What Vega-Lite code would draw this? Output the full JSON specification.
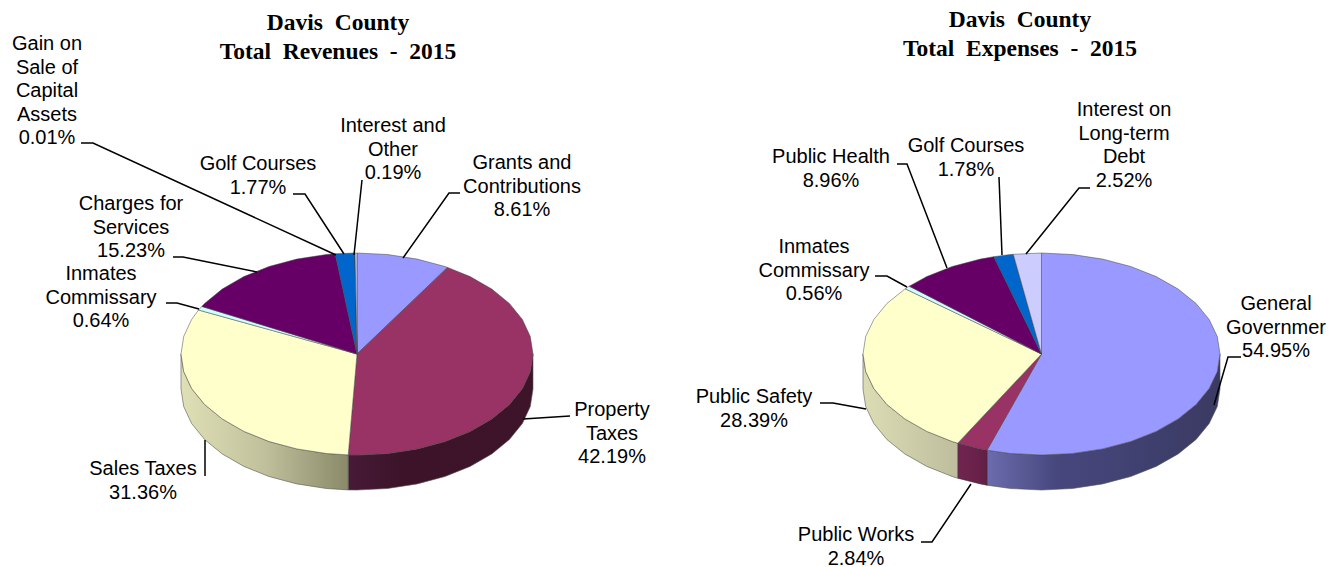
{"$schema":"https://vega.github.io/schema/vega-lite/v6.json","width":1340,"height":567,"padding":0,"autosize":"none","background":"white","config":{"view":{"stroke":null}},
"datasets":{"walls":[
{"pie":"Revenues","slice":"Property Taxes","i":1,"x":533,"y":354},{"pie":"Revenues","slice":"Property Taxes","i":2,"x":530.3,"y":371.5},{"pie":"Revenues","slice":"Property Taxes","i":3,"x":522.4,"y":388.5},{"pie":"Revenues","slice":"Property Taxes","i":4,"x":509.4,"y":404.5},{"pie":"Revenues","slice":"Property Taxes","i":5,"x":491.8,"y":418.9},{"pie":"Revenues","slice":"Property Taxes","i":6,"x":470.1,"y":431.4},{"pie":"Revenues","slice":"Property Taxes","i":7,"x":445,"y":441.5},{"pie":"Revenues","slice":"Property Taxes","i":8,"x":417.2,"y":448.9},{"pie":"Revenues","slice":"Property Taxes","i":9,"x":387.6,"y":453.5},{"pie":"Revenues","slice":"Property Taxes","i":10,"x":357,"y":455},{"pie":"Revenues","slice":"Property Taxes","i":11,"x":348.2,"y":454.9},{"pie":"Revenues","slice":"Property Taxes","i":12,"x":348.2,"y":489.9},{"pie":"Revenues","slice":"Property Taxes","i":13,"x":357,"y":490},{"pie":"Revenues","slice":"Property Taxes","i":14,"x":387.6,"y":488.5},{"pie":"Revenues","slice":"Property Taxes","i":15,"x":417.2,"y":483.9},{"pie":"Revenues","slice":"Property Taxes","i":16,"x":445,"y":476.5},{"pie":"Revenues","slice":"Property Taxes","i":17,"x":470.1,"y":466.4},{"pie":"Revenues","slice":"Property Taxes","i":18,"x":491.8,"y":453.9},{"pie":"Revenues","slice":"Property Taxes","i":19,"x":509.4,"y":439.5},{"pie":"Revenues","slice":"Property Taxes","i":20,"x":522.4,"y":423.5},{"pie":"Revenues","slice":"Property Taxes","i":21,"x":530.3,"y":406.5},{"pie":"Revenues","slice":"Property Taxes","i":22,"x":533,"y":389},
{"pie":"Revenues","slice":"Sales Taxes","i":1,"x":348.2,"y":454.9},{"pie":"Revenues","slice":"Sales Taxes","i":2,"x":326.4,"y":453.5},{"pie":"Revenues","slice":"Sales Taxes","i":3,"x":296.8,"y":448.9},{"pie":"Revenues","slice":"Sales Taxes","i":4,"x":269,"y":441.5},{"pie":"Revenues","slice":"Sales Taxes","i":5,"x":243.9,"y":431.4},{"pie":"Revenues","slice":"Sales Taxes","i":6,"x":222.2,"y":418.9},{"pie":"Revenues","slice":"Sales Taxes","i":7,"x":204.6,"y":404.5},{"pie":"Revenues","slice":"Sales Taxes","i":8,"x":191.6,"y":388.5},{"pie":"Revenues","slice":"Sales Taxes","i":9,"x":183.7,"y":371.5},{"pie":"Revenues","slice":"Sales Taxes","i":10,"x":181,"y":354},{"pie":"Revenues","slice":"Sales Taxes","i":11,"x":181,"y":389},{"pie":"Revenues","slice":"Sales Taxes","i":12,"x":183.7,"y":406.5},{"pie":"Revenues","slice":"Sales Taxes","i":13,"x":191.6,"y":423.5},{"pie":"Revenues","slice":"Sales Taxes","i":14,"x":204.6,"y":439.5},{"pie":"Revenues","slice":"Sales Taxes","i":15,"x":222.2,"y":453.9},{"pie":"Revenues","slice":"Sales Taxes","i":16,"x":243.9,"y":466.4},{"pie":"Revenues","slice":"Sales Taxes","i":17,"x":269,"y":476.5},{"pie":"Revenues","slice":"Sales Taxes","i":18,"x":296.8,"y":483.9},{"pie":"Revenues","slice":"Sales Taxes","i":19,"x":326.4,"y":488.5},{"pie":"Revenues","slice":"Sales Taxes","i":20,"x":348.2,"y":489.9},
{"pie":"Expenses","slice":"General Government","i":1,"x":1220,"y":354},{"pie":"Expenses","slice":"General Government","i":2,"x":1217.3,"y":371.5},{"pie":"Expenses","slice":"General Government","i":3,"x":1209.2,"y":388.5},{"pie":"Expenses","slice":"General Government","i":4,"x":1196.1,"y":404.5},{"pie":"Expenses","slice":"General Government","i":5,"x":1178.2,"y":418.9},{"pie":"Expenses","slice":"General Government","i":6,"x":1156.2,"y":431.4},{"pie":"Expenses","slice":"General Government","i":7,"x":1130.8,"y":441.5},{"pie":"Expenses","slice":"General Government","i":8,"x":1102.6,"y":448.9},{"pie":"Expenses","slice":"General Government","i":9,"x":1072.5,"y":453.5},{"pie":"Expenses","slice":"General Government","i":10,"x":1041.5,"y":455},{"pie":"Expenses","slice":"General Government","i":11,"x":1010.5,"y":453.5},{"pie":"Expenses","slice":"General Government","i":12,"x":987,"y":450.2},{"pie":"Expenses","slice":"General Government","i":13,"x":987,"y":485.2},{"pie":"Expenses","slice":"General Government","i":14,"x":1010.5,"y":488.5},{"pie":"Expenses","slice":"General Government","i":15,"x":1041.5,"y":490},{"pie":"Expenses","slice":"General Government","i":16,"x":1072.5,"y":488.5},{"pie":"Expenses","slice":"General Government","i":17,"x":1102.6,"y":483.9},{"pie":"Expenses","slice":"General Government","i":18,"x":1130.8,"y":476.5},{"pie":"Expenses","slice":"General Government","i":19,"x":1156.2,"y":466.4},{"pie":"Expenses","slice":"General Government","i":20,"x":1178.2,"y":453.9},{"pie":"Expenses","slice":"General Government","i":21,"x":1196.1,"y":439.5},{"pie":"Expenses","slice":"General Government","i":22,"x":1209.2,"y":423.5},{"pie":"Expenses","slice":"General Government","i":23,"x":1217.3,"y":406.5},{"pie":"Expenses","slice":"General Government","i":24,"x":1220,"y":389},
{"pie":"Expenses","slice":"Public Works","i":1,"x":987,"y":450.2},{"pie":"Expenses","slice":"Public Works","i":2,"x":980.4,"y":448.9},{"pie":"Expenses","slice":"Public Works","i":3,"x":957.7,"y":443.2},{"pie":"Expenses","slice":"Public Works","i":4,"x":957.7,"y":478.2},{"pie":"Expenses","slice":"Public Works","i":5,"x":980.4,"y":483.9},{"pie":"Expenses","slice":"Public Works","i":6,"x":987,"y":485.2},
{"pie":"Expenses","slice":"Public Safety","i":1,"x":957.7,"y":443.2},{"pie":"Expenses","slice":"Public Safety","i":2,"x":952.2,"y":441.5},{"pie":"Expenses","slice":"Public Safety","i":3,"x":926.8,"y":431.4},{"pie":"Expenses","slice":"Public Safety","i":4,"x":904.8,"y":418.9},{"pie":"Expenses","slice":"Public Safety","i":5,"x":886.9,"y":404.5},{"pie":"Expenses","slice":"Public Safety","i":6,"x":873.8,"y":388.5},{"pie":"Expenses","slice":"Public Safety","i":7,"x":865.7,"y":371.5},{"pie":"Expenses","slice":"Public Safety","i":8,"x":863,"y":354},{"pie":"Expenses","slice":"Public Safety","i":9,"x":863,"y":389},{"pie":"Expenses","slice":"Public Safety","i":10,"x":865.7,"y":406.5},{"pie":"Expenses","slice":"Public Safety","i":11,"x":873.8,"y":423.5},{"pie":"Expenses","slice":"Public Safety","i":12,"x":886.9,"y":439.5},{"pie":"Expenses","slice":"Public Safety","i":13,"x":904.8,"y":453.9},{"pie":"Expenses","slice":"Public Safety","i":14,"x":926.8,"y":466.4},{"pie":"Expenses","slice":"Public Safety","i":15,"x":952.2,"y":476.5},{"pie":"Expenses","slice":"Public Safety","i":16,"x":957.7,"y":478.2}
],
"tops":[
{"pie":"Revenues","slice":"Grants and Contributions","i":0,"x":357,"y":354},{"pie":"Revenues","slice":"Grants and Contributions","i":1,"x":357,"y":253},{"pie":"Revenues","slice":"Grants and Contributions","i":2,"x":387.6,"y":254.5},{"pie":"Revenues","slice":"Grants and Contributions","i":3,"x":417.2,"y":259.1},{"pie":"Revenues","slice":"Grants and Contributions","i":4,"x":445,"y":266.5},{"pie":"Revenues","slice":"Grants and Contributions","i":5,"x":447.6,"y":267.4},
{"pie":"Revenues","slice":"Property Taxes","i":0,"x":357,"y":354},{"pie":"Revenues","slice":"Property Taxes","i":1,"x":447.6,"y":267.4},{"pie":"Revenues","slice":"Property Taxes","i":2,"x":470.1,"y":276.6},{"pie":"Revenues","slice":"Property Taxes","i":3,"x":491.8,"y":289.1},{"pie":"Revenues","slice":"Property Taxes","i":4,"x":509.4,"y":303.5},{"pie":"Revenues","slice":"Property Taxes","i":5,"x":522.4,"y":319.5},{"pie":"Revenues","slice":"Property Taxes","i":6,"x":530.3,"y":336.5},{"pie":"Revenues","slice":"Property Taxes","i":7,"x":533,"y":354},{"pie":"Revenues","slice":"Property Taxes","i":8,"x":530.3,"y":371.5},{"pie":"Revenues","slice":"Property Taxes","i":9,"x":522.4,"y":388.5},{"pie":"Revenues","slice":"Property Taxes","i":10,"x":509.4,"y":404.5},{"pie":"Revenues","slice":"Property Taxes","i":11,"x":491.8,"y":418.9},{"pie":"Revenues","slice":"Property Taxes","i":12,"x":470.1,"y":431.4},{"pie":"Revenues","slice":"Property Taxes","i":13,"x":445,"y":441.5},{"pie":"Revenues","slice":"Property Taxes","i":14,"x":417.2,"y":448.9},{"pie":"Revenues","slice":"Property Taxes","i":15,"x":387.6,"y":453.5},{"pie":"Revenues","slice":"Property Taxes","i":16,"x":357,"y":455},{"pie":"Revenues","slice":"Property Taxes","i":17,"x":348.2,"y":454.9},
{"pie":"Revenues","slice":"Sales Taxes","i":0,"x":357,"y":354},{"pie":"Revenues","slice":"Sales Taxes","i":1,"x":348.2,"y":454.9},{"pie":"Revenues","slice":"Sales Taxes","i":2,"x":326.4,"y":453.5},{"pie":"Revenues","slice":"Sales Taxes","i":3,"x":296.8,"y":448.9},{"pie":"Revenues","slice":"Sales Taxes","i":4,"x":269,"y":441.5},{"pie":"Revenues","slice":"Sales Taxes","i":5,"x":243.9,"y":431.4},{"pie":"Revenues","slice":"Sales Taxes","i":6,"x":222.2,"y":418.9},{"pie":"Revenues","slice":"Sales Taxes","i":7,"x":204.6,"y":404.5},{"pie":"Revenues","slice":"Sales Taxes","i":8,"x":191.6,"y":388.5},{"pie":"Revenues","slice":"Sales Taxes","i":9,"x":183.7,"y":371.5},{"pie":"Revenues","slice":"Sales Taxes","i":10,"x":181,"y":354},{"pie":"Revenues","slice":"Sales Taxes","i":11,"x":183.7,"y":336.5},{"pie":"Revenues","slice":"Sales Taxes","i":12,"x":191.6,"y":319.5},{"pie":"Revenues","slice":"Sales Taxes","i":13,"x":198.5,"y":310},
{"pie":"Revenues","slice":"Inmates Commissary","i":0,"x":357,"y":354},{"pie":"Revenues","slice":"Inmates Commissary","i":1,"x":198.5,"y":310},{"pie":"Revenues","slice":"Inmates Commissary","i":2,"x":201.8,"y":306.4},
{"pie":"Revenues","slice":"Charges for Services","i":0,"x":357,"y":354},{"pie":"Revenues","slice":"Charges for Services","i":1,"x":201.8,"y":306.4},{"pie":"Revenues","slice":"Charges for Services","i":2,"x":204.6,"y":303.5},{"pie":"Revenues","slice":"Charges for Services","i":3,"x":222.2,"y":289.1},{"pie":"Revenues","slice":"Charges for Services","i":4,"x":243.9,"y":276.6},{"pie":"Revenues","slice":"Charges for Services","i":5,"x":269,"y":266.5},{"pie":"Revenues","slice":"Charges for Services","i":6,"x":296.8,"y":259.1},{"pie":"Revenues","slice":"Charges for Services","i":7,"x":326.4,"y":254.5},{"pie":"Revenues","slice":"Charges for Services","i":8,"x":335.2,"y":253.8},
{"pie":"Revenues","slice":"Golf Courses","i":0,"x":357,"y":354},{"pie":"Revenues","slice":"Golf Courses","i":1,"x":335.2,"y":253.8},{"pie":"Revenues","slice":"Golf Courses","i":2,"x":354.9,"y":253},
{"pie":"Revenues","slice":"Gain on Sale of Capital Assets","i":0,"x":357,"y":354},{"pie":"Revenues","slice":"Gain on Sale of Capital Assets","i":1,"x":354.9,"y":253},{"pie":"Revenues","slice":"Gain on Sale of Capital Assets","i":2,"x":355,"y":253},
{"pie":"Revenues","slice":"Interest and Other","i":0,"x":357,"y":354},{"pie":"Revenues","slice":"Interest and Other","i":1,"x":355,"y":253},{"pie":"Revenues","slice":"Interest and Other","i":2,"x":357,"y":253},
{"pie":"Expenses","slice":"General Government","i":0,"x":1041.5,"y":354},{"pie":"Expenses","slice":"General Government","i":1,"x":1041.5,"y":253},{"pie":"Expenses","slice":"General Government","i":2,"x":1072.5,"y":254.5},{"pie":"Expenses","slice":"General Government","i":3,"x":1102.6,"y":259.1},{"pie":"Expenses","slice":"General Government","i":4,"x":1130.8,"y":266.5},{"pie":"Expenses","slice":"General Government","i":5,"x":1156.2,"y":276.6},{"pie":"Expenses","slice":"General Government","i":6,"x":1178.2,"y":289.1},{"pie":"Expenses","slice":"General Government","i":7,"x":1196.1,"y":303.5},{"pie":"Expenses","slice":"General Government","i":8,"x":1209.2,"y":319.5},{"pie":"Expenses","slice":"General Government","i":9,"x":1217.3,"y":336.5},{"pie":"Expenses","slice":"General Government","i":10,"x":1220,"y":354},{"pie":"Expenses","slice":"General Government","i":11,"x":1217.3,"y":371.5},{"pie":"Expenses","slice":"General Government","i":12,"x":1209.2,"y":388.5},{"pie":"Expenses","slice":"General Government","i":13,"x":1196.1,"y":404.5},{"pie":"Expenses","slice":"General Government","i":14,"x":1178.2,"y":418.9},{"pie":"Expenses","slice":"General Government","i":15,"x":1156.2,"y":431.4},{"pie":"Expenses","slice":"General Government","i":16,"x":1130.8,"y":441.5},{"pie":"Expenses","slice":"General Government","i":17,"x":1102.6,"y":448.9},{"pie":"Expenses","slice":"General Government","i":18,"x":1072.5,"y":453.5},{"pie":"Expenses","slice":"General Government","i":19,"x":1041.5,"y":455},{"pie":"Expenses","slice":"General Government","i":20,"x":1010.5,"y":453.5},{"pie":"Expenses","slice":"General Government","i":21,"x":987,"y":450.2},
{"pie":"Expenses","slice":"Public Works","i":0,"x":1041.5,"y":354},{"pie":"Expenses","slice":"Public Works","i":1,"x":987,"y":450.2},{"pie":"Expenses","slice":"Public Works","i":2,"x":980.4,"y":448.9},{"pie":"Expenses","slice":"Public Works","i":3,"x":957.7,"y":443.2},
{"pie":"Expenses","slice":"Public Safety","i":0,"x":1041.5,"y":354},{"pie":"Expenses","slice":"Public Safety","i":1,"x":957.7,"y":443.2},{"pie":"Expenses","slice":"Public Safety","i":2,"x":952.2,"y":441.5},{"pie":"Expenses","slice":"Public Safety","i":3,"x":926.8,"y":431.4},{"pie":"Expenses","slice":"Public Safety","i":4,"x":904.8,"y":418.9},{"pie":"Expenses","slice":"Public Safety","i":5,"x":886.9,"y":404.5},{"pie":"Expenses","slice":"Public Safety","i":6,"x":873.8,"y":388.5},{"pie":"Expenses","slice":"Public Safety","i":7,"x":865.7,"y":371.5},{"pie":"Expenses","slice":"Public Safety","i":8,"x":863,"y":354},{"pie":"Expenses","slice":"Public Safety","i":9,"x":865.7,"y":336.5},{"pie":"Expenses","slice":"Public Safety","i":10,"x":873.8,"y":319.5},{"pie":"Expenses","slice":"Public Safety","i":11,"x":886.9,"y":303.5},{"pie":"Expenses","slice":"Public Safety","i":12,"x":904.8,"y":289.1},{"pie":"Expenses","slice":"Public Safety","i":13,"x":905.2,"y":288.8},
{"pie":"Expenses","slice":"Inmates Commissary","i":0,"x":1041.5,"y":354},{"pie":"Expenses","slice":"Inmates Commissary","i":1,"x":905.2,"y":288.8},{"pie":"Expenses","slice":"Inmates Commissary","i":2,"x":909.3,"y":286.2},
{"pie":"Expenses","slice":"Public Health","i":0,"x":1041.5,"y":354},{"pie":"Expenses","slice":"Public Health","i":1,"x":909.3,"y":286.2},{"pie":"Expenses","slice":"Public Health","i":2,"x":926.8,"y":276.6},{"pie":"Expenses","slice":"Public Health","i":3,"x":952.2,"y":266.5},{"pie":"Expenses","slice":"Public Health","i":4,"x":980.4,"y":259.1},{"pie":"Expenses","slice":"Public Health","i":5,"x":993.8,"y":256.7},
{"pie":"Expenses","slice":"Golf Courses","i":0,"x":1041.5,"y":354},{"pie":"Expenses","slice":"Golf Courses","i":1,"x":993.8,"y":256.7},{"pie":"Expenses","slice":"Golf Courses","i":2,"x":1010.5,"y":254.5},{"pie":"Expenses","slice":"Golf Courses","i":3,"x":1013.3,"y":254.3},
{"pie":"Expenses","slice":"Interest on Long-term Debt","i":0,"x":1041.5,"y":354},{"pie":"Expenses","slice":"Interest on Long-term Debt","i":1,"x":1013.3,"y":254.3},{"pie":"Expenses","slice":"Interest on Long-term Debt","i":2,"x":1041.5,"y":253}
],
"leaders":[
{"id":"r1","i":0,"x":81,"y":143},{"id":"r1","i":1,"x":93,"y":143},{"id":"r1","i":2,"x":336,"y":255},
{"id":"r2","i":0,"x":293,"y":194},{"id":"r2","i":1,"x":305,"y":194},{"id":"r2","i":2,"x":344,"y":254},
{"id":"r3","i":0,"x":362,"y":180},{"id":"r3","i":1,"x":354,"y":255},
{"id":"r4","i":0,"x":460,"y":193},{"id":"r4","i":1,"x":449,"y":193},{"id":"r4","i":2,"x":403,"y":258},
{"id":"r5","i":0,"x":173,"y":257},{"id":"r5","i":1,"x":183,"y":257},{"id":"r5","i":2,"x":257,"y":272},
{"id":"r6","i":0,"x":166,"y":303},{"id":"r6","i":1,"x":177,"y":303},{"id":"r6","i":2,"x":199,"y":309},
{"id":"r7","i":0,"x":570,"y":416},{"id":"r7","i":1,"x":523,"y":419},
{"id":"r8","i":0,"x":205,"y":440},{"id":"r8","i":1,"x":205,"y":476},
{"id":"e1","i":0,"x":1090,"y":188},{"id":"e1","i":1,"x":1079,"y":188},{"id":"e1","i":2,"x":1026,"y":254},
{"id":"e2","i":0,"x":999,"y":177},{"id":"e2","i":1,"x":1002,"y":255},
{"id":"e3","i":0,"x":897,"y":164},{"id":"e3","i":1,"x":907,"y":164},{"id":"e3","i":2,"x":947,"y":268},
{"id":"e4","i":0,"x":875,"y":276},{"id":"e4","i":1,"x":887,"y":276},{"id":"e4","i":2,"x":907,"y":287},
{"id":"e5","i":0,"x":1241,"y":357},{"id":"e5","i":1,"x":1228,"y":357},{"id":"e5","i":2,"x":1214,"y":405},
{"id":"e6","i":0,"x":820,"y":403},{"id":"e6","i":1,"x":833,"y":403},{"id":"e6","i":2,"x":866,"y":409},
{"id":"e7","i":0,"x":921,"y":542},{"id":"e7","i":1,"x":932,"y":542},{"id":"e7","i":2,"x":971,"y":484}
],
"labels":[
{"pie":"Revenues","share":0.01,"text":"Gain on\nSale of\nCapital\nAssets\n0.01%","x":47,"y":50},
{"pie":"Revenues","share":1.77,"text":"Golf Courses\n1.77%","x":258,"y":170},
{"pie":"Revenues","share":0.19,"text":"Interest and\nOther\n0.19%","x":393,"y":132},
{"pie":"Revenues","share":8.61,"text":"Grants and\nContributions\n8.61%","x":522,"y":169},
{"pie":"Revenues","share":15.23,"text":"Charges for\nServices\n15.23%","x":131,"y":210},
{"pie":"Revenues","share":0.64,"text":"Inmates\nCommissary\n0.64%","x":101,"y":280},
{"pie":"Revenues","share":42.19,"text":"Property\nTaxes\n42.19%","x":612,"y":416},
{"pie":"Revenues","share":31.36,"text":"Sales Taxes\n31.36%","x":143,"y":475},
{"pie":"Expenses","share":2.52,"text":"Interest on\nLong-term\nDebt\n2.52%","x":1124,"y":116},
{"pie":"Expenses","share":1.78,"text":"Golf Courses\n1.78%","x":966,"y":152},
{"pie":"Expenses","share":8.96,"text":"Public Health\n8.96%","x":831,"y":163},
{"pie":"Expenses","share":0.56,"text":"Inmates\nCommissary\n0.56%","x":814,"y":253},
{"pie":"Expenses","share":54.95,"text":"General\nGovernmer\n54.95%","x":1276,"y":310},
{"pie":"Expenses","share":28.39,"text":"Public Safety\n28.39%","x":754,"y":403},
{"pie":"Expenses","share":2.84,"text":"Public Works\n2.84%","x":856,"y":541}
],
"titles":[
{"text":"Davis\u00a0 County\nTotal\u00a0 Revenues\u00a0 -\u00a0 2015","x":338,"y":30},
{"text":"Davis\u00a0 County\nTotal\u00a0 Expenses\u00a0 -\u00a0 2015","x":1020,"y":27}
]},
"encoding":{"x":{"field":"x","type":"quantitative","axis":null,"scale":{"domain":[0,1340],"nice":false,"zero":false}},"y":{"field":"y","type":"quantitative","axis":null,"scale":{"domain":[567,0],"nice":false,"zero":false}}},
"layer":[
{"data":{"name":"walls"},"transform":[{"filter":"datum.slice=='Property Taxes'"}],"mark":{"type":"line","interpolate":"linear-closed","stroke":"#555","strokeWidth":0.6,"fill":{"gradient":"linear","x1":0,"x2":1,"y1":0,"y2":0,"stops":[{"offset":0,"color":"#471A37"},{"offset":0.3,"color":"#3C1329"},{"offset":1,"color":"#3E1429"}]}},"encoding":{"order":{"field":"i","type":"quantitative"}}},
{"data":{"name":"walls"},"transform":[{"filter":"datum.slice=='Sales Taxes'"}],"mark":{"type":"line","interpolate":"linear-closed","stroke":"#555","strokeWidth":0.6,"fill":{"gradient":"linear","x1":0,"x2":1,"y1":0,"y2":0,"stops":[{"offset":0,"color":"#E0E0B6"},{"offset":0.5,"color":"#C0C09C"},{"offset":1,"color":"#8A8A6A"}]}},"encoding":{"order":{"field":"i","type":"quantitative"}}},
{"data":{"name":"walls"},"transform":[{"filter":"datum.slice=='General Government'"}],"mark":{"type":"line","interpolate":"linear-closed","stroke":"#555","strokeWidth":0.6,"fill":{"gradient":"linear","x1":0,"x2":1,"y1":0,"y2":0,"stops":[{"offset":0,"color":"#6C6CAE"},{"offset":0.3,"color":"#47477E"},{"offset":1,"color":"#3A3A62"}]}},"encoding":{"order":{"field":"i","type":"quantitative"}}},
{"data":{"name":"walls"},"transform":[{"filter":"datum.slice=='Public Works'"}],"mark":{"type":"line","interpolate":"linear-closed","stroke":"#333","strokeWidth":0.6,"fill":{"gradient":"linear","x1":0,"x2":1,"y1":0,"y2":0,"stops":[{"offset":0,"color":"#70254F"},{"offset":1,"color":"#641F47"}]}},"encoding":{"order":{"field":"i","type":"quantitative"}}},
{"data":{"name":"walls"},"transform":[{"filter":"datum.slice=='Public Safety'"}],"mark":{"type":"line","interpolate":"linear-closed","stroke":"#555","strokeWidth":0.6,"fill":{"gradient":"linear","x1":0,"x2":1,"y1":0,"y2":0,"stops":[{"offset":0,"color":"#DCDCB4"},{"offset":1,"color":"#BEBE9E"}]}},"encoding":{"order":{"field":"i","type":"quantitative"}}},
{"data":{"name":"tops"},"mark":{"type":"line","interpolate":"linear-closed","stroke":"#444","strokeWidth":0.5},"encoding":{"fill":{"field":"slice","type":"nominal","legend":null,"scale":{"domain":["Grants and Contributions","Property Taxes","Sales Taxes","Inmates Commissary","Charges for Services","Golf Courses","Gain on Sale of Capital Assets","Interest and Other","General Government","Public Works","Public Safety","Public Health","Interest on Long-term Debt"],"range":["#9999FF","#993366","#FFFFCC","#CCFFFF","#660066","#0066CC","#000080","#CCCCFF","#9999FF","#993366","#FFFFCC","#660066","#CCCCFF"]}},"detail":{"field":"pie"},"order":{"field":"i","type":"quantitative"}}},
{"data":{"name":"leaders"},"mark":{"type":"line","stroke":"#000","strokeWidth":1.5},"encoding":{"detail":{"field":"id"},"order":{"field":"i","type":"quantitative"}}},
{"data":{"name":"labels"},"mark":{"type":"text","font":"Liberation Sans","fontSize":20,"lineHeight":23.5,"lineBreak":"\n","align":"center","baseline":"alphabetic","color":"#000"},"encoding":{"text":{"field":"text"}}},
{"data":{"name":"titles"},"mark":{"type":"text","font":"Liberation Serif","fontWeight":"bold","fontSize":23.5,"lineHeight":29,"lineBreak":"\n","align":"center","baseline":"alphabetic","color":"#000"},"encoding":{"text":{"field":"text"}}}
]}
